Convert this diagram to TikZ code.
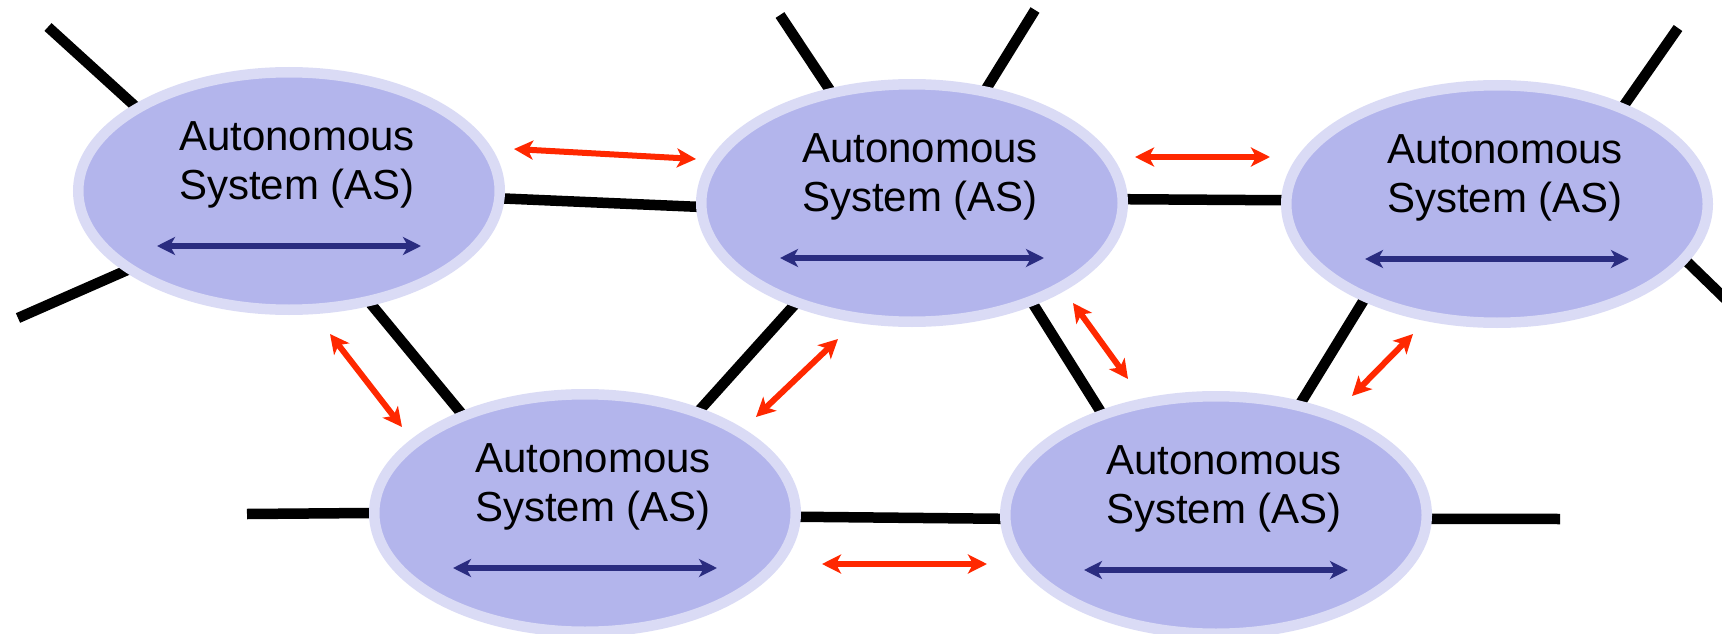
\documentclass[tikz,border=0pt]{standalone}
\usepackage{fontspec}
\setmainfont{Liberation Sans}
\usetikzlibrary{arrows.meta,shapes.geometric,backgrounds}
\definecolor{asring}{RGB}{218,219,245}
\definecolor{asfill}{RGB}{179,181,236}
\definecolor{asnavy}{RGB}{42,44,128}
\definecolor{peerred}{RGB}{255,40,0}
\begin{document}
\begin{tikzpicture}[x=1pt,y=-1pt,
  asnode/.style={ellipse, fill=asfill, draw=asring, line width=10.5pt,
    minimum width=421.5pt, minimum height=237.5pt, inner sep=0pt},
  aslabel/.style={font=\fontsize{42}{49}\selectfont, align=center, inner sep=0pt},
  link/.style={line width=10.5pt, draw=black, shorten <=-14pt, shorten >=-14pt},
  stub/.style={line width=10.5pt, draw=black, shorten <=-14pt},
  intra/.style={line width=5.5pt, draw=asnavy,
    {Stealth[length=18pt,width=18pt,inset=5pt]}-{Stealth[length=18pt,width=18pt,inset=5pt]}},
  peer/.style={line width=6pt, draw=peerred,
    {Stealth[length=19pt,width=19pt,inset=5pt]}-{Stealth[length=19pt,width=19pt,inset=5pt]}}]
\useasboundingbox (0,0) rectangle (1722,634);

% autonomous systems
\node[asnode] (as1) at (289,191) {};
\node[asnode] (as2) at (912,203) {};
\node[asnode] (as3) at (1497,204) {};
\node[asnode] (as4) at (585,513) {};
\node[asnode] (as5) at (1216,515) {};

% free ends of the links leaving the picture
\coordinate (l1) at (48,27);
\coordinate (l2) at (18,318);
\coordinate (l3) at (780,15);
\coordinate (l4) at (1035,10);
\coordinate (l5) at (1678,28);
\coordinate (l6) at (1745,318);
\coordinate (l7) at (247,514);
\coordinate (l8) at (1560,519);

% physical links, behind the systems
\begin{pgfonlayer}{background}
  \draw[stub] (as1.151) -- (l1);
  \draw[stub] (as1.206) -- (l2);
  \draw[link] (as1.-2) -- (as2.181);
  \draw[link] (as1.-54) -- (as4.141);
  \draw[stub] (as2.126) -- (l3);
  \draw[stub] (as2.57) -- (l4);
  \draw[link] (as2.1) -- (as3.179);
  \draw[link] (as2.221) -- (as4.42);
  \draw[link] (as2.-40) -- (as5.138);
  \draw[stub] (as3.38) -- (l5);
  \draw[stub] (as3.-17) -- (l6);
  \draw[link] (as3.216) -- (as5.53);
  \draw[stub] (as4.180) -- (l7);
  \draw[link] (as4.-1) -- (as5.181);
  \draw[stub] (as5.-1) -- (l8);
\end{pgfonlayer}

% labels and intra-domain arrows
\foreach \n in {as1,as2,as3,as4,as5}{
  \node[aslabel] (\n-label) at ([xshift=8pt,yshift=26pt]\n.center) {Autonomous\\System (AS)};
  \draw[intra] ([xshift=-132pt,yshift=-55pt]\n.center) -- ([xshift=132pt,yshift=-55pt]\n.center);
}

% inter-domain peering arrows
\coordinate (r1a) at (514,149);  \coordinate (r1b) at (696,159);
\coordinate (r2a) at (1135,157); \coordinate (r2b) at (1270,157);
\coordinate (r3a) at (330,334);  \coordinate (r3b) at (402,427);
\coordinate (r4a) at (838,339);  \coordinate (r4b) at (756,417);
\coordinate (r5a) at (1073,303); \coordinate (r5b) at (1128,379);
\coordinate (r6a) at (1413,334); \coordinate (r6b) at (1352,396);
\coordinate (r7a) at (822,564);  \coordinate (r7b) at (987,564);
\foreach \r in {r1,r2,r3,r4,r5,r6,r7}
  \draw[peer] (\r a) -- (\r b);
\end{tikzpicture}
\end{document}
